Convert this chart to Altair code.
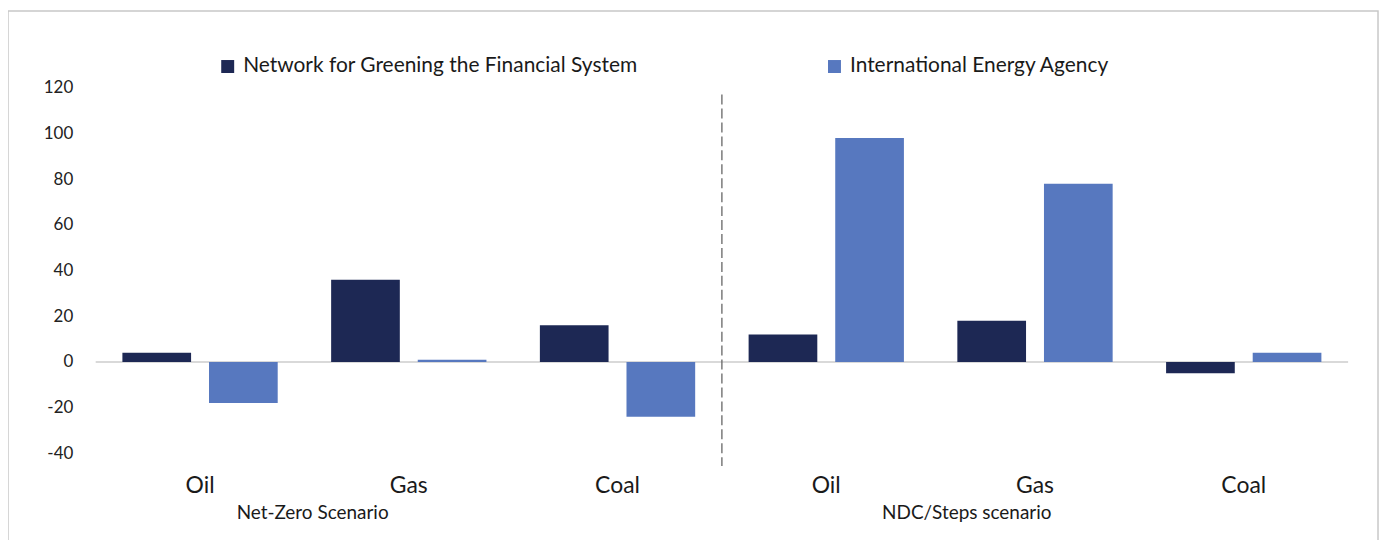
import altair as alt
import pandas as pd

# ---- data ----
scenarios = ["Net-Zero Scenario", "Net-Zero Scenario", "Net-Zero Scenario",
             "NDC/Steps scenario", "NDC/Steps scenario", "NDC/Steps scenario"]
fuels = ["Oil", "Gas", "Coal", "Oil", "Gas", "Coal"]
keys = ["NZ|Oil", "NZ|Gas", "NZ|Coal", "NDC|Oil", "NDC|Gas", "NDC|Coal"]
ngfs = [4, 36, 16, 12, 18, -5]
iea = [-18, 1, -24, 98, 78, 4]
series = ["Network for Greening the Financial System", "International Energy Agency"]
colors = ["#1d2854", "#5778bf"]
y_ticks = [-40, -20, 0, 20, 40, 60, 80, 100, 120]

scenario_labels = ["Net-Zero Scenario", "NDC/Steps scenario"]
scenario_anchor = ["NZ|Oil", "NDC|Oil"]

rows = []
for k, s, f, a, b in zip(keys, scenarios, fuels, ngfs, iea):
    rows.append({"key": k, "scenario": s, "fuel": f, "series": series[0], "value": a})
    rows.append({"key": k, "scenario": s, "fuel": f, "series": series[1], "value": b})
df = pd.DataFrame(rows)

W, H = 1257, 367
FONT = "Lato"

yscale = alt.Scale(domain=[-40, 120], nice=False, zero=False)

bars = alt.Chart(df).mark_bar().encode(
    x=alt.X("key:N", sort=keys,
            scale=alt.Scale(paddingInner=0.256, paddingOuter=0.128),
            axis=alt.Axis(title=None, domain=False, ticks=False, labelAngle=0,
                          labelExpr="split(datum.label, '|')[1]",
                          labelFont=FONT, labelFontSize=23, labelColor="#1a1a1a",
                          labelPadding=21)),
    xOffset=alt.XOffset("series:N", sort=series,
                        scale=alt.Scale(paddingInner=0.207, paddingOuter=0)),
    y=alt.Y("value:Q", scale=yscale,
            axis=alt.Axis(title=None, values=y_ticks, domain=False, ticks=False,
                          grid=False, labelFont=FONT, labelFontSize=17,
                          labelExpr="'' + datum.value",
                          labelColor="#222222", labelPadding=23)),
    color=alt.Color("series:N", sort=series,
                    scale=alt.Scale(domain=series, range=colors),
                    legend=alt.Legend(title=None, orient="none", direction="horizontal",
                                      legendX=122, legendY=-32,
                                      symbolType="square", symbolSize=169,
                                      symbolStrokeWidth=0, labelFont=FONT,
                                      labelFontSize=21, labelColor="#1a1a1a",
                                      labelOffset=5, columnPadding=186,
                                      labelLimit=1000)),
)

zero = alt.Chart(pd.DataFrame({"v": [0]})).mark_rule(color="#d9d9d9", strokeWidth=2).encode(
    y=alt.Y("v:Q", scale=yscale)
)

sdf = pd.DataFrame({"key": scenario_anchor, "label": scenario_labels})
scen_nz = alt.Chart(sdf.iloc[[0]]).mark_text(font=FONT, fontSize=19, color="#1a1a1a",
                                             baseline="middle", dx=113).encode(
    x=alt.X("key:N", sort=keys), y=alt.value(427), text="label:N")
scen_ndc = alt.Chart(sdf.iloc[[1]]).mark_text(font=FONT, fontSize=19, color="#1a1a1a",
                                              baseline="middle", dx=141).encode(
    x=alt.X("key:N", sort=keys), y=alt.value(427), text="label:N")

# separator between the two scenarios (after the third group of six)
sep = alt.Chart(pd.DataFrame({"pos": [3], "top": [117], "bot": [-45.5]})).mark_rule(
    color="#666666", strokeWidth=1.3, strokeDash=[10, 4]).encode(
    x=alt.X("pos:Q", scale=alt.Scale(domain=[0, 6], nice=False, zero=False), axis=None),
    y=alt.Y("top:Q", scale=yscale),
    y2="bot:Q",
)

frame = alt.Chart(pd.DataFrame({"a": [0]})).mark_rect(
    fill=None, stroke="#c8c8c8", strokeWidth=1.5).encode(
    x=alt.value(-88), x2=alt.value(W + 30), y=alt.value(-77), y2=alt.value(H + 200))

base = alt.layer(frame, zero, bars, scen_nz, scen_ndc).resolve_scale(x="shared")
chart = alt.layer(base, sep).resolve_scale(x="independent").properties(
    width=W, height=H,
    background="white",
    autosize=alt.AutoSizeParams(type="none"),
    padding={"left": 88, "top": 79, "right": 31, "bottom": 86},
).configure_view(stroke=None)

chart.save("out.html", embed_options={"renderer": "svg", "actions": False})
